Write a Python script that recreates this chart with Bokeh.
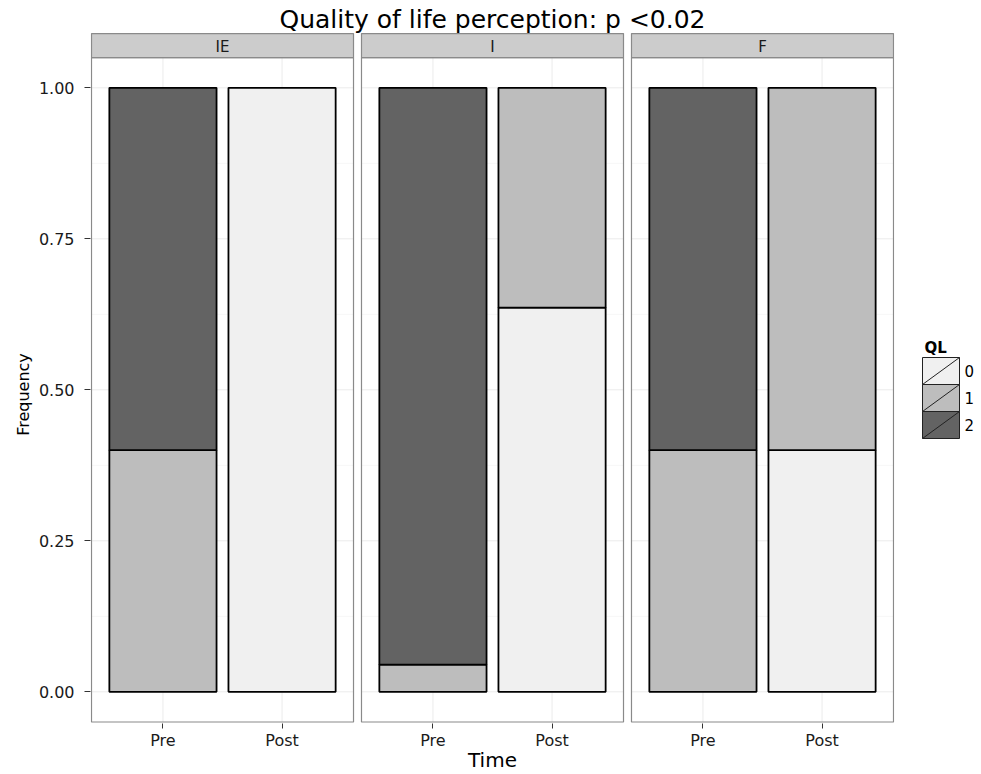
import numpy as np
from bokeh.plotting import figure
from bokeh.models import Range1d, FixedTicker, ColumnDataSource
from bokeh.layouts import row
from bokeh.embed import file_html
from bokeh.resources import INLINE
from bokeh.core.properties import value

# ---------------- data ----------------
title_text = "Quality of life perception: p <0.02"
facets = ["IE", "I", "F"]
times = ["Pre", "Post"]
levels = ["0", "1", "2"]
level_colors = ["#F0F0F0", "#BDBDBD", "#636363"]
# frequency of each QL level; order: IE-Pre, IE-Post, I-Pre, I-Post, F-Pre, F-Post
freq_ql0 = [0.0, 1.0, 0.0, 0.636, 0.0, 0.4]
freq_ql1 = [0.4, 0.0, 0.045, 0.364, 0.4, 0.6]
freq_ql2 = [0.6, 0.0, 0.955, 0.0, 0.6, 0.0]
y_ticks = [0.0, 0.25, 0.5, 0.75, 1.0]
y_tick_labels = ["0.00", "0.25", "0.50", "0.75", "1.00"]
x_label = "Time"
y_label = "Frequency"
legend_title = "QL"

# ---------------- style / geometry ----------------
FONT = "DejaVu Sans"
TEXT = "#1A1A1A"
PANEL_W = 2.2      # x extent of a facet panel (2 categories + expansion)
EXPAND = 0.6
BAR_W = 0.9
GAP = 0.067        # gap between panels, in x units
Y_LO, Y_HI = -0.05, 1.05
PANEL_PX = 802
PX_Y = 604.0
FRAME_TOP = 8
FRAME_H = 715
ROW_H = 774
BORDER_BOTTOM = ROW_H - FRAME_H - FRAME_TOP
LEFT_W = 34
LEGEND_W = 80
MAIN_BL = 56
MAIN_BR = 3
FRAME_W = PANEL_PX + 2
MAIN_W = MAIN_BL + FRAME_W + MAIN_BR
FRAME_BOTTOM_PX = FRAME_TOP + FRAME_H

x_total = len(facets) * PANEL_W + (len(facets) - 1) * GAP
px_x = PANEL_PX / x_total
x_start = -1.0 / px_x
x_end = x_total + 1.0 / px_x
y_start = Y_LO - 1.5 / PX_Y
y_end = y_start + FRAME_H / PX_Y
strip_top = Y_HI + 24 / PX_Y

panel_left = [k * (PANEL_W + GAP) for k in range(len(facets))]

# bar positions
bar_x = []
bar_time = []
for k, f in enumerate(facets):
    for j, t in enumerate(times):
        bar_x.append(round(panel_left[k] + EXPAND + j, 6))
        bar_time.append(t)
bar_x = np.array(bar_x)

freqs = [freq_ql0, freq_ql1, freq_ql2]
cum = np.zeros(len(bar_x))
bars = dict(x=[], bottom=[], top=[], color=[], level=[])
for lvl, col, vals in zip(levels, level_colors, freqs):
    vals = np.array(vals, dtype=float)
    for i in range(len(bar_x)):
        if vals[i] > 0:
            bars["x"].append(bar_x[i])
            bars["bottom"].append(cum[i])
            bars["top"].append(cum[i] + vals[i])
            bars["color"].append(col)
            bars["level"].append(lvl)
    cum = cum + vals
bar_src = ColumnDataSource(bars)

# ---------------- main figure ----------------
p = figure(width=MAIN_W, height=ROW_H,
           x_range=Range1d(x_start, x_end), y_range=Range1d(y_start, y_end),
           output_backend="svg", toolbar_location=None,
           min_border_left=MAIN_BL, min_border_right=MAIN_BR,
           min_border_top=FRAME_TOP, min_border_bottom=BORDER_BOTTOM)
p.outline_line_color = None
p.grid.visible = False
p.background_fill_color = "white"
p.border_fill_color = "white"

# grid lines per panel
minor_y = [(a + b) / 2 for a, b in zip(y_ticks[:-1], y_ticks[1:])]
mx0, mx1, my = [], [], []
for pl in panel_left:
    for yv in minor_y:
        mx0.append(pl); mx1.append(pl + PANEL_W); my.append(yv)
p.segment(x0=mx0, y0=my, x1=mx1, y1=my, line_color="#F7F7F7", line_width=1)
gx0, gx1, gy = [], [], []
for pl in panel_left:
    for yv in y_ticks:
        gx0.append(pl); gx1.append(pl + PANEL_W); gy.append(yv)
p.segment(x0=gx0, y0=gy, x1=gx1, y1=gy, line_color="#EBEBEB", line_width=1)
p.segment(x0=list(bar_x), y0=[Y_LO] * len(bar_x), x1=list(bar_x), y1=[Y_HI] * len(bar_x),
          line_color="#EBEBEB", line_width=1)

# stacked bars
p.vbar(x="x", bottom="bottom", top="top", width=BAR_W, fill_color="color",
       line_color="black", line_width=1.8, source=bar_src)

# panel borders
p.quad(left=panel_left, right=[pl + PANEL_W for pl in panel_left],
       bottom=[Y_LO] * len(facets), top=[Y_HI] * len(facets),
       fill_color=None, line_color="#8A8A8A", line_width=1.2)
# strips
p.quad(left=panel_left, right=[pl + PANEL_W for pl in panel_left],
       bottom=[Y_HI] * len(facets), top=[strip_top] * len(facets),
       fill_color="#CCCCCC", line_color="#8A8A8A", line_width=1.2)
p.text(x=[pl + PANEL_W / 2 for pl in panel_left],
       y=[(Y_HI + strip_top) / 2 - 1 / PX_Y] * len(facets),
       text=facets, text_align="center", text_baseline="middle",
       text_font=value(FONT), text_font_size=value("15px"), text_color=TEXT)
# title (centre of text 10.5 px below the frame top)
p.text(x=[x_total / 2], y=[y_end - 10.5 / PX_Y], text=[title_text],
       text_align="center", text_baseline="middle",
       text_font=value(FONT), text_font_size=value("25px"), text_color="black")

# axes
p.yaxis.ticker = FixedTicker(ticks=y_ticks)
p.yaxis.major_label_overrides = dict(zip(y_ticks, y_tick_labels))
p.yaxis.axis_line_color = None
p.yaxis.minor_tick_line_color = None
p.yaxis.major_tick_line_color = "#333333"
p.yaxis.major_tick_out = 6
p.yaxis.major_tick_in = 0
p.yaxis.major_label_standoff = 10
p.yaxis.major_label_text_font = FONT
p.yaxis.major_label_text_font_size = "16px"
p.yaxis.major_label_text_color = TEXT

p.xaxis.ticker = FixedTicker(ticks=list(bar_x))
p.xaxis.major_label_overrides = {float(x): t for x, t in zip(bar_x, bar_time)}
p.xaxis.axis_line_color = None
p.xaxis.minor_tick_line_color = None
p.xaxis.major_tick_line_color = "#333333"
p.xaxis.major_tick_out = 5
p.xaxis.major_tick_in = 0
p.xaxis.major_label_standoff = 2
p.xaxis.major_label_text_font = FONT
p.xaxis.major_label_text_font_size = "16px"
p.xaxis.major_label_text_color = TEXT
p.xaxis.axis_label = x_label
p.xaxis.axis_label_standoff = -5
p.xaxis.axis_label_text_font = FONT
p.xaxis.axis_label_text_font_size = "20px"
p.xaxis.axis_label_text_font_style = "normal"
p.xaxis.axis_label_text_color = "black"


def side_figure(w):
    # y data = -(screen y in px), aligned with the main frame
    f = figure(width=w, height=ROW_H, x_range=Range1d(0, w),
               y_range=Range1d(-FRAME_BOTTOM_PX, -FRAME_TOP),
               x_axis_type=None, y_axis_type=None, output_backend="svg",
               toolbar_location=None, min_border_left=0, min_border_right=0,
               min_border_top=FRAME_TOP, min_border_bottom=BORDER_BOTTOM)
    f.outline_line_color = None
    f.grid.visible = False
    return f


# ---------------- left figure: y label ----------------
lf = side_figure(LEFT_W)
lf.text(x=[23], y=[-394], text=[y_label], angle=np.pi / 2,
        text_align="center", text_baseline="middle",
        text_font=value(FONT), text_font_size=value("16px"), text_color="black")

# ---------------- legend figure ----------------
lg = side_figure(LEGEND_W)
KEY_L, KEY_R, KEY_TOP, KEY_H = 25, 62, 357, 27
k_top = [-(KEY_TOP + i * KEY_H) for i in range(len(levels))]
k_bot = [t - KEY_H for t in k_top]
lg.quad(left=[KEY_L] * len(levels), right=[KEY_R] * len(levels), top=k_top, bottom=k_bot,
        fill_color=level_colors, line_color="#222222", line_width=1)
lg.segment(x0=[KEY_L] * len(levels), y0=k_bot, x1=[KEY_R] * len(levels), y1=k_top,
           line_color="#222222", line_width=1)
lg.text(x=[KEY_R + 5] * len(levels), y=[(a + b) / 2 for a, b in zip(k_top, k_bot)], text=levels,
        text_align="left", text_baseline="middle",
        text_font=value(FONT), text_font_size=value("15px"), text_color="black")
lg.text(x=[KEY_L + 2], y=[-347], text=[legend_title], text_align="left",
        text_baseline="middle", text_font=value(FONT), text_font_size=value("15px"),
        text_font_style=value("bold"), text_color="black")

layout = row(lf, p, lg)
open("out.html", "w").write(file_html(layout, INLINE))
